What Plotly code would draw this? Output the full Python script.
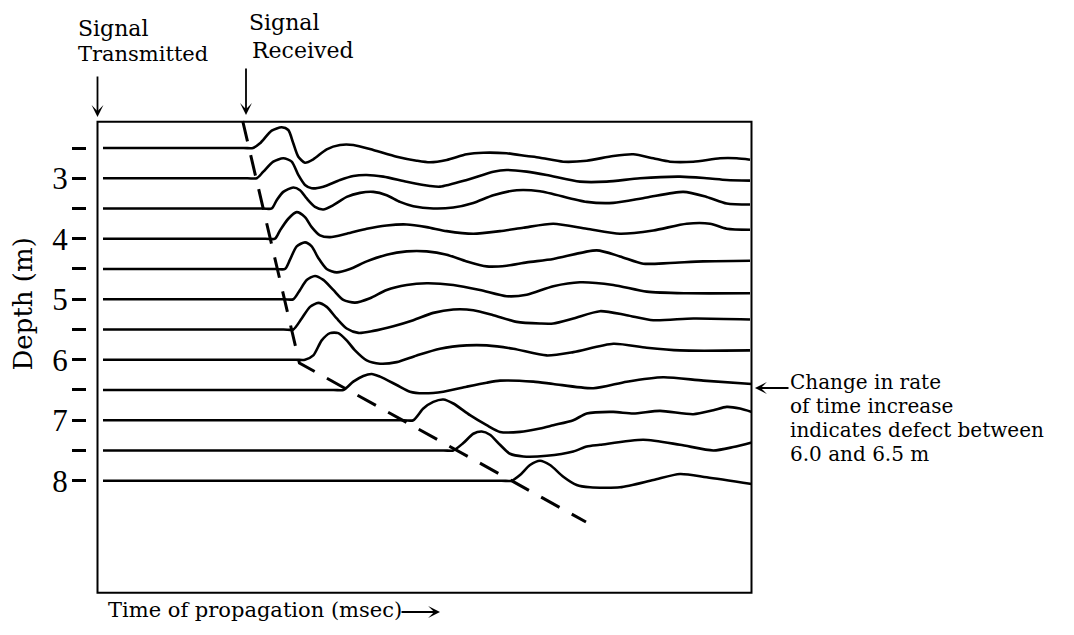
import plotly.graph_objects as go

# ---------------- data ----------------
# depth of each receiver trace (m)
DEPTHS = [2.5, 3.0, 3.5, 4.0, 4.5, 5.0, 5.5, 6.0, 6.5, 7.0, 7.5, 8.0]
TICK_TEXT = ["", "3", "", "4", "", "5", "", "6", "", "7", "", "8"]

# time samples (arbitrary time units) and signal amplitude (arbitrary units) per trace
T_25 = [0.55, 14.6, 15.55, 16.25, 17.42, 18.42, 19.08, 19.58, 20.08, 20.75, 21.58, 22.92, 24.25, 25.58, 27.58, 29.92,
        31.92, 33.25, 34.92, 36.92, 38.58, 40.92, 42.92, 44.25, 46.58, 48.92, 51.58, 53.58, 55.58, 57.25, 59.58,
        62.25, 63.92, 65.25]
A_25 = [0, 0, 0, 0.47, 1.73, 2.07, 1.80, 0.47, -0.87, -1.47, -1.13, -0.13, 0.30, 0.30, -0.20, -0.87,
        -1.27, -1.43, -1.20, -0.63, -0.47, -0.53, -0.80, -0.97, -1.37, -1.27, -0.80, -0.63, -1.03, -1.37, -1.37,
        -1.03, -1.03, -1.17]

T_30 = [0.55, 15.0, 15.92, 16.58, 17.58, 18.58, 19.42, 20.08, 20.75, 21.42, 22.58, 24.25, 25.58, 26.92, 28.58, 30.92,
        33.25, 34.25, 36.92, 39.58, 40.92, 42.92, 44.92, 48.25, 50.92, 54.25, 58.25, 60.92, 62.92, 65.25]
A_30 = [0, 0, 0, 0.66, 1.66, 2.00, 1.66, 0.33, -0.67, -1.00, -0.84, -0.17, 0.23, 0.33, 0.16, -0.34,
        -0.77, -0.84, -0.17, 0.66, 0.83, 0.66, 0.33, -0.34, -0.34, 0.0, 0.16, 0.0, -0.17, -0.24]

T_35 = [0.55, 16.5, 17.42, 17.92, 18.58, 19.58, 20.25, 20.92, 21.75, 22.58, 23.58, 24.92, 26.25, 27.58, 28.92, 30.25,
        31.58, 33.58, 35.58, 37.58, 39.58, 41.92, 44.25, 48.92, 51.58, 54.92, 58.58, 60.92, 62.92, 65.25]
A_35 = [0, 0, 0, 0.83, 1.66, 2.10, 1.83, 1.00, 0.16, -0.10, 0.33, 1.16, 1.56, 1.66, 1.33, 0.66,
        0.23, 0.0, 0.10, 0.56, 1.33, 1.83, 1.73, 0.66, 0.56, 1.10, 1.66, 1.16, 0.50, 0.40]

T_40 = [0.55, 16.8, 17.75, 18.25, 19.08, 19.92, 20.75, 21.42, 22.25, 23.25, 24.92, 26.92, 28.92, 30.92, 32.92, 34.92,
        37.58, 40.25, 42.58, 45.58, 48.92, 52.25, 55.58, 58.92, 61.25, 62.92, 65.25]
A_40 = [0, 0, 0, 0.83, 2.00, 2.66, 2.16, 1.16, 0.33, 0.16, 0.50, 1.00, 1.33, 1.43, 1.16, 0.76,
        0.50, 0.76, 1.10, 1.50, 1.00, 0.50, 0.83, 1.50, 1.50, 1.00, 0.90]

T_45 = [0.55, 17.8, 18.75, 19.25, 19.92, 20.75, 21.42, 22.08, 22.92, 23.92, 25.25, 26.92, 28.92, 30.92, 32.92, 34.92,
        36.92, 38.92, 40.92, 42.92, 45.58, 49.92, 52.25, 54.58, 57.25, 60.58, 65.25]
A_45 = [0, 0, 0, 0.93, 2.26, 2.66, 2.26, 1.10, 0.0, -0.34, 0.0, 0.76, 1.43, 1.76, 1.76, 1.43,
        0.76, 0.26, 0.33, 0.66, 1.00, 1.86, 1.26, 0.53, 0.60, 0.76, 0.83]

T_50 = [0.55, 18.6, 19.58, 20.25, 20.92, 21.75, 22.58, 23.58, 24.58, 25.75, 27.25, 28.92, 30.92, 32.92, 35.58, 38.25,
        40.92, 42.92, 45.58, 48.25, 51.58, 54.92, 58.92, 65.25]
A_50 = [0, 0, 0, 0.93, 1.93, 2.33, 1.93, 0.93, -0.07, -0.34, 0.10, 0.93, 1.43, 1.60, 1.43, 0.93,
        0.30, 0.45, 1.30, 1.70, 1.43, 0.76, 0.60, 0.60]

T_55 = [0.55, 18.6, 19.58, 20.42, 21.25, 22.08, 22.92, 23.92, 24.92, 26.08, 27.58, 29.58, 31.58, 33.58, 35.58, 37.58,
        39.58, 41.92, 44.25, 45.58, 47.58, 50.25, 52.92, 55.58, 59.58, 65.25]
A_55 = [0, 0, 0, 1.10, 2.26, 2.66, 2.26, 1.10, 0.10, -0.34, -0.14, 0.33, 0.93, 1.66, 2.00, 1.93,
        1.43, 0.76, 0.60, 0.60, 1.10, 1.83, 1.43, 0.93, 1.10, 1.00]

T_60 = [0.55, 19.8, 20.75, 21.58, 22.42, 23.25, 24.08, 24.92, 25.75, 26.92, 28.25, 29.92, 31.92, 34.25, 36.92, 38.92,
        41.58, 44.92, 47.58, 51.58, 54.92, 58.25, 65.25]
A_60 = [0, 0, 0, 0.43, 1.93, 2.66, 2.66, 1.93, 0.93, -0.07, -0.40, -0.24, 0.43, 1.10, 1.43, 1.43,
        1.10, 0.43, 0.76, 1.60, 1.20, 0.93, 0.93]

T_65 = [0.55, 23.6, 24.58, 25.58, 26.58, 27.42, 28.25, 29.92, 31.25, 32.58, 34.58, 36.92, 38.92, 40.25, 43.58, 45.58,
        49.58, 52.92, 56.58, 60.58, 65.42]
A_65 = [0, 0, 0, 0.83, 1.40, 1.60, 1.33, 0.50, -0.17, -0.33, -0.17, 0.33, 0.73, 0.93, 0.83, 0.60,
        0.17, 0.83, 1.27, 0.93, 0.60]

T_70 = [0.55, 30.6, 31.58, 32.58, 33.58, 34.58, 35.58, 37.25, 38.92, 40.25, 42.25, 44.25, 45.58, 47.58, 48.92, 51.58,
        53.58, 56.25, 59.58, 61.58, 62.92, 64.25, 65.42]
A_70 = [0, 0, 0, 1.17, 1.83, 2.07, 1.67, 0.50, -0.50, -1.17, -1.17, -0.83, -0.50, 0.0, 0.67, 0.83,
        0.67, 0.93, 0.60, 1.00, 1.33, 1.17, 0.83]

T_75 = [0.55, 34.6, 35.58, 36.58, 37.58, 38.42, 39.25, 40.25, 41.25, 42.58, 44.92, 47.58, 48.92, 50.25, 54.58, 58.25,
        61.58, 63.58, 65.42]
A_75 = [0, 0, 0, 0.74, 1.67, 1.90, 1.57, 0.57, -0.33, -0.60, -0.53, -0.10, 0.40, 0.57, 1.07, 0.57,
        0.0, 0.34, 0.80]

T_80 = [0.55, 40.4, 41.42, 42.25, 43.25, 44.25, 45.25, 46.58, 47.92, 49.25, 52.25, 55.58, 58.25, 60.92, 65.42]
A_80 = [0, 0, 0, 0.57, 1.57, 2.00, 1.57, 0.40, -0.43, -0.66, -0.66, 0.07, 0.67, 0.34, -0.33]

TRACE_T = [T_25, T_30, T_35, T_40, T_45, T_50, T_55, T_60, T_65, T_70, T_75, T_80]
TRACE_A = [A_25, A_30, A_35, A_40, A_45, A_50, A_55, A_60, A_65, A_70, A_75, A_80]

# picked first-arrival line (time, depth)
ARRIVAL_T = [14.52, 20.19, 48.85]
ARRIVAL_D = [2.054, 6.054, 8.683]

# ---------------- styling / layout ----------------
W, H = 1074, 635
PAGE_OFF = 8                      # default body margin of the html page
# plot area in page pixels: x 87..756, y 116..598
PL, PR, PT, PB = 87, 756, 116, 598
ML = PL - PAGE_OFF
MT = PT - PAGE_OFF
MR = W - (PR - PAGE_OFF)
MB = H - (PB - PAGE_OFF)
X_RANGE = [-1.05, 65.85]
Y_RANGE = [9.939, 1.971]
AMP_SCALE = 10 / 60.49          # display scale of the amplitude (depth units per amplitude unit)
SERIF = "Liberation Serif, Times New Roman, serif"
TXT_FONT = "DejaVu Serif, serif"


def px2paper(px, py):
    return (px - PL) / (PR - PL), (PB - py) / (PB - PT)


fig = go.Figure()

for d, t, a in zip(DEPTHS, TRACE_T, TRACE_A):
    fig.add_trace(go.Scatter(
        x=t, y=[d - v * AMP_SCALE for v in a], mode="lines",
        line=dict(color="black", width=2.6, shape="spline", smoothing=0.7),
        showlegend=False, hoverinfo="skip"))

fig.add_trace(go.Scatter(
    x=ARRIVAL_T, y=ARRIVAL_D, mode="lines",
    line=dict(color="black", width=3, dash="21px,14px"),
    showlegend=False, hoverinfo="skip"))

# frame around the records
fig.add_shape(type="rect", xref="x", yref="y", x0=0, x1=65.4, y0=2.065, y1=9.852,
              line=dict(color="black", width=2), layer="above")

annotations = []


def text(s, px, py, size, xanchor="left", angle=0):
    x, y = px2paper(px, py)
    annotations.append(dict(text=s, x=x, y=y, xref="paper", yref="paper", showarrow=False,
                            xanchor=xanchor, yanchor="middle", textangle=angle,
                            borderpad=0, borderwidth=0,
                            font=dict(family=TXT_FONT, size=size, color="black")))


def arrow(hx, hy, tx, ty, size=1.1, width=1.8):
    x, y = px2paper(hx, hy)
    annotations.append(dict(text="", x=x, y=y, xref="paper", yref="paper", showarrow=True,
                            ax=tx - hx, ay=ty - hy, axref="pixel", ayref="pixel",
                            arrowhead=3, arrowsize=size, arrowwidth=width, arrowcolor="black"))


text("Signal", 78, 28.4, 22)
text("Transmitted", 78, 54.1, 21)
text("Signal", 249, 22.5, 22)
text("Received", 252, 50.2, 22)
arrow(97.5, 117, 97.5, 75)
arrow(246, 115, 246, 67)

text("Depth (m)", 22.5, 304, 26, xanchor="center", angle=-90)

text("Time of propagation (msec)", 108, 610, 21)
arrow(440, 612, 400, 612, size=1.1)

text("Change in rate", 790, 382.3, 20)
text("of time increase", 790, 406.3, 20)
text("indicates defect between", 790, 430.3, 20)
text("6.0 and 6.5 m", 790, 454.3, 20)
arrow(755, 388, 790, 388, size=1.1)

fig.update_layout(
    width=W, height=H,
    margin=dict(l=ML, r=MR, t=MT, b=MB, autoexpand=False),
    paper_bgcolor="white", plot_bgcolor="white",
    showlegend=False,
    annotations=annotations,
    xaxis=dict(range=X_RANGE, visible=False, fixedrange=True),
    yaxis=dict(range=Y_RANGE, tickvals=DEPTHS, ticktext=TICK_TEXT,
               ticks="outside", ticklen=14, tickwidth=3, tickcolor="black",
               showline=False, showgrid=False, zeroline=False,
               ticklabelstandoff=-2, automargin=False,
               tickfont=dict(family=SERIF, size=31, color="black"), fixedrange=True),
)

fig.write_html("out.html")
